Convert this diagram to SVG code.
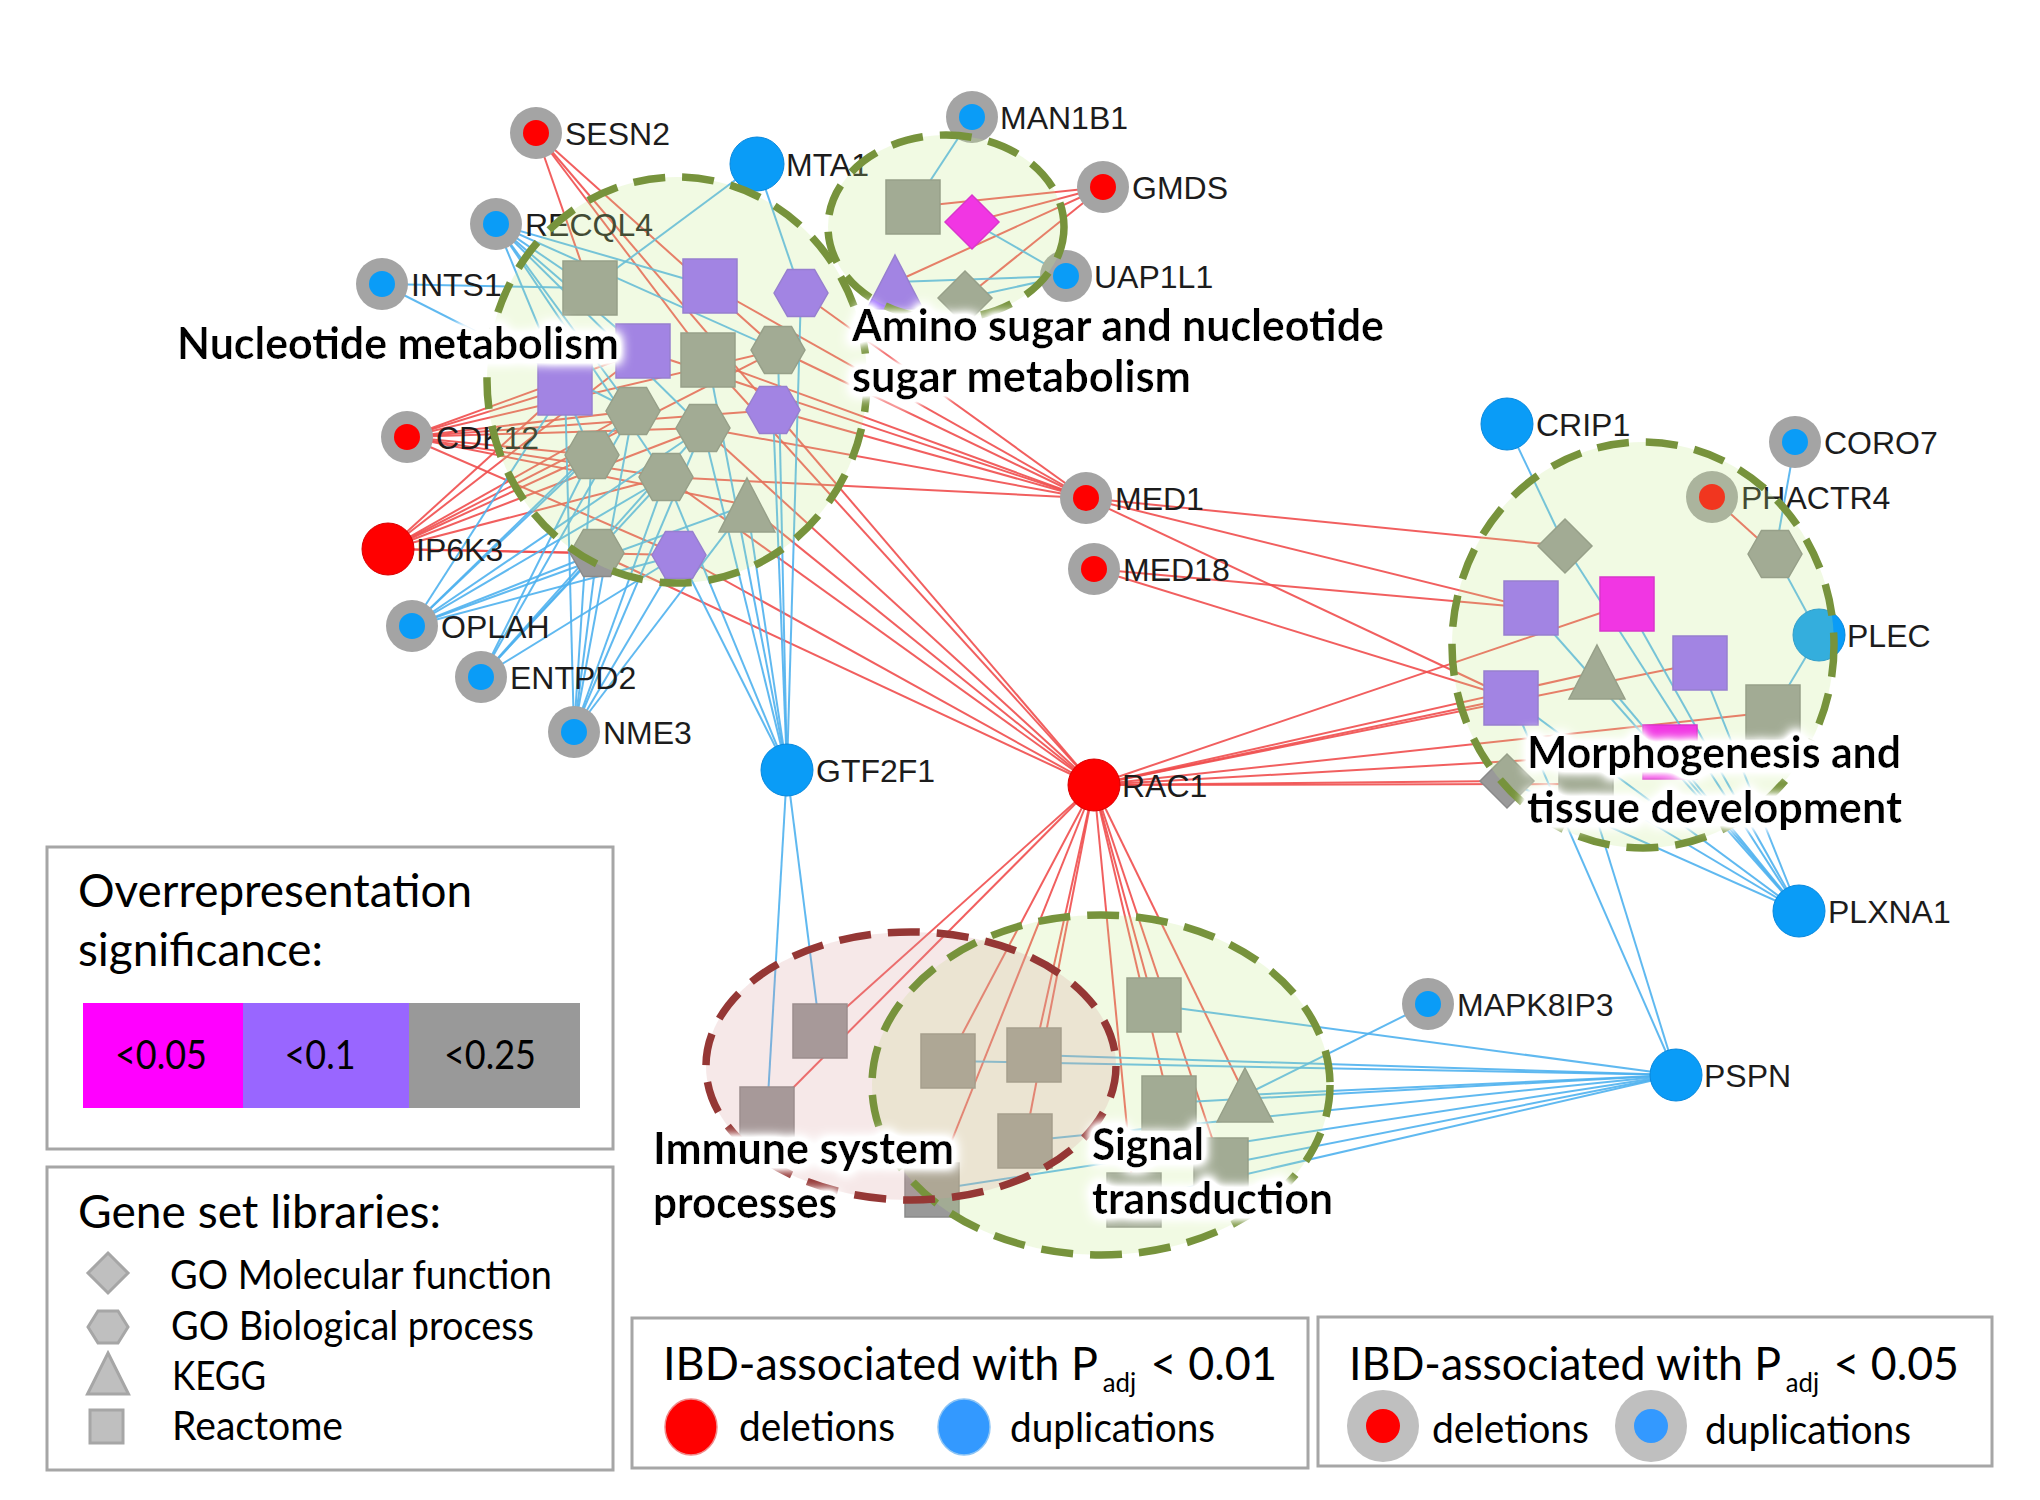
<svg xmlns="http://www.w3.org/2000/svg" width="2040" height="1500" viewBox="0 0 2040 1500">
<defs>
<style>
.ring{fill:#A4A4A4}
.rd{fill:#FF0000}
.bl{fill:#0A9CF7}
.rdS{fill:#FF0000;stroke:#D80000;stroke-width:1}
.blS{fill:#0A9CF7;stroke:#0888DD;stroke-width:1}
.gl{font-family:"Liberation Sans",Arial,sans-serif;font-size:32px;fill:#1c1c1c}
.er line{stroke:#F04E4E;stroke-width:2;stroke-opacity:.9}
.eb line{stroke:#4FB1EE;stroke-width:2;stroke-opacity:.9}
.g{fill:#999999;stroke:#8A8A8A;stroke-width:1.5}
.p{fill:#9966FF;stroke:#8A60E6;stroke-width:1.5}
.m{fill:#FF00FF;stroke:#E000E0;stroke-width:1.5}
.cfg{fill:#C3EA86;fill-opacity:.23}
.cfr{fill:#D99C9C;fill-opacity:.23}
.cog{fill:none;stroke:#77933C;stroke-width:7.5;stroke-dasharray:32 17}
.cor{fill:none;stroke:#953735;stroke-width:7.5;stroke-dasharray:32 17}
.title{font-family:Lato,"Open Sans",sans-serif;font-weight:700;font-size:43px;fill:#000}
.lg{font-family:Lato,"Open Sans",sans-serif;fill:#000}
.box{fill:#fff;stroke:#A6A6A6;stroke-width:3}
.ico{fill:#BFBFBF;stroke:#A6A6A6;stroke-width:3}
</style>
<rect id="sq" x="-27" y="-27" width="54" height="54"/>
<polygon id="hex" points="-27,0 -13.5,-23.5 13.5,-23.5 27,0 13.5,23.5 -13.5,23.5"/>
<polygon id="dia" points="0,-27 27,0 0,27 -27,0"/>
<polygon id="tri" points="0,-27 28,27 -28,27"/>
<filter id="halo" x="-10%" y="-50%" width="120%" height="200%">
<feMorphology in="SourceAlpha" operator="dilate" radius="4" result="d"/>
<feGaussianBlur in="d" stdDeviation="6" result="b"/>
<feComponentTransfer in="b" result="b2"><feFuncA type="linear" slope="2"/></feComponentTransfer>
<feFlood flood-color="#ffffff" result="w"/>
<feComposite in="w" in2="b2" operator="in" result="glow"/>
<feMerge><feMergeNode in="glow"/><feMergeNode in="SourceGraphic"/></feMerge>
</filter>
</defs>
<rect width="2040" height="1500" fill="#fff"/>

<g id="connectors">
<g class="er">
<line x1="536" y1="133" x2="590" y2="288"/><line x1="536" y1="133" x2="708" y2="360"/><line x1="536" y1="133" x2="778" y2="350"/><line x1="536" y1="133" x2="773" y2="410"/>
<line x1="407" y1="437" x2="565" y2="388"/><line x1="407" y1="437" x2="643" y2="351"/><line x1="407" y1="437" x2="633" y2="411"/><line x1="407" y1="437" x2="703" y2="428"/><line x1="407" y1="437" x2="778" y2="350"/><line x1="407" y1="437" x2="773" y2="410"/><line x1="407" y1="437" x2="666" y2="477"/><line x1="407" y1="437" x2="592" y2="455"/><line x1="407" y1="437" x2="747" y2="505"/><line x1="407" y1="437" x2="679" y2="555"/>
<line x1="388" y1="549" x2="565" y2="388"/><line x1="388" y1="549" x2="643" y2="351"/><line x1="388" y1="549" x2="633" y2="411"/><line x1="388" y1="549" x2="703" y2="428"/><line x1="388" y1="549" x2="592" y2="455"/><line x1="388" y1="549" x2="666" y2="477"/><line x1="388" y1="549" x2="778" y2="350"/><line x1="388" y1="549" x2="597" y2="553"/><line x1="388" y1="549" x2="679" y2="555"/>
<line x1="1086" y1="498" x2="710" y2="286"/><line x1="1086" y1="498" x2="801" y2="293"/><line x1="1086" y1="498" x2="708" y2="360"/><line x1="1086" y1="498" x2="778" y2="350"/><line x1="1086" y1="498" x2="773" y2="410"/><line x1="1086" y1="498" x2="703" y2="428"/><line x1="1086" y1="498" x2="666" y2="477"/><line x1="1086" y1="498" x2="643" y2="351"/>
<line x1="1086" y1="498" x2="1565" y2="546"/><line x1="1086" y1="498" x2="1531" y2="608"/><line x1="1086" y1="498" x2="1511" y2="698"/>
<line x1="1094" y1="569" x2="1531" y2="608"/><line x1="1094" y1="569" x2="1511" y2="698"/>
<line x1="1094" y1="785" x2="708" y2="360"/><line x1="1094" y1="785" x2="773" y2="410"/><line x1="1094" y1="785" x2="703" y2="428"/><line x1="1094" y1="785" x2="666" y2="477"/><line x1="1094" y1="785" x2="747" y2="505"/><line x1="1094" y1="785" x2="679" y2="555"/><line x1="1094" y1="785" x2="597" y2="553"/>
<line x1="1094" y1="785" x2="1627" y2="604"/><line x1="1094" y1="785" x2="1597" y2="672"/><line x1="1094" y1="785" x2="1700" y2="663"/><line x1="1094" y1="785" x2="1511" y2="698"/><line x1="1094" y1="785" x2="1773" y2="712"/><line x1="1094" y1="785" x2="1670" y2="752"/><line x1="1094" y1="785" x2="1507" y2="781"/><line x1="1094" y1="785" x2="1586" y2="784"/>
<line x1="1094" y1="785" x2="820" y2="1031"/><line x1="1094" y1="785" x2="767" y2="1114"/><line x1="1094" y1="785" x2="948" y2="1061"/><line x1="1094" y1="785" x2="1034" y2="1055"/><line x1="1094" y1="785" x2="1025" y2="1141"/><line x1="1094" y1="785" x2="1154" y2="1005"/><line x1="1094" y1="785" x2="1169" y2="1103"/><line x1="1094" y1="785" x2="1245" y2="1095"/><line x1="1094" y1="785" x2="1221" y2="1165"/><line x1="1094" y1="785" x2="1134" y2="1200"/><line x1="1094" y1="785" x2="932" y2="1190"/>
<line x1="1103" y1="187" x2="913" y2="207"/><line x1="1103" y1="187" x2="972" y2="222"/><line x1="1103" y1="187" x2="895" y2="282"/><line x1="1103" y1="187" x2="965" y2="298"/>
<line x1="1712" y1="497" x2="1775" y2="554"/>
</g>
<g class="eb">
<line x1="757" y1="164" x2="590" y2="288"/><line x1="757" y1="164" x2="801" y2="293"/>
<line x1="496" y1="224" x2="590" y2="288"/><line x1="496" y1="224" x2="710" y2="286"/><line x1="496" y1="224" x2="643" y2="351"/><line x1="496" y1="224" x2="778" y2="350"/><line x1="496" y1="224" x2="633" y2="411"/><line x1="496" y1="224" x2="703" y2="428"/><line x1="496" y1="224" x2="592" y2="455"/><line x1="496" y1="224" x2="666" y2="477"/>
<line x1="382" y1="284" x2="590" y2="288"/><line x1="382" y1="284" x2="633" y2="411"/>
<line x1="412" y1="626" x2="565" y2="388"/><line x1="412" y1="626" x2="633" y2="411"/><line x1="412" y1="626" x2="703" y2="428"/><line x1="412" y1="626" x2="592" y2="455"/><line x1="412" y1="626" x2="666" y2="477"/><line x1="412" y1="626" x2="747" y2="505"/><line x1="412" y1="626" x2="597" y2="553"/><line x1="412" y1="626" x2="679" y2="555"/>
<line x1="481" y1="677" x2="633" y2="411"/><line x1="481" y1="677" x2="703" y2="428"/><line x1="481" y1="677" x2="592" y2="455"/><line x1="481" y1="677" x2="666" y2="477"/><line x1="481" y1="677" x2="597" y2="553"/><line x1="481" y1="677" x2="679" y2="555"/>
<line x1="574" y1="732" x2="565" y2="388"/><line x1="574" y1="732" x2="633" y2="411"/><line x1="574" y1="732" x2="703" y2="428"/><line x1="574" y1="732" x2="592" y2="455"/><line x1="574" y1="732" x2="666" y2="477"/><line x1="574" y1="732" x2="747" y2="505"/><line x1="574" y1="732" x2="597" y2="553"/><line x1="574" y1="732" x2="679" y2="555"/>
<line x1="787" y1="770" x2="801" y2="293"/><line x1="787" y1="770" x2="708" y2="360"/><line x1="787" y1="770" x2="778" y2="350"/><line x1="787" y1="770" x2="773" y2="410"/><line x1="787" y1="770" x2="703" y2="428"/><line x1="787" y1="770" x2="666" y2="477"/><line x1="787" y1="770" x2="747" y2="505"/><line x1="787" y1="770" x2="679" y2="555"/><line x1="787" y1="770" x2="820" y2="1031"/><line x1="787" y1="770" x2="767" y2="1114"/>
<line x1="972" y1="117" x2="913" y2="207"/>
<line x1="1066" y1="276" x2="972" y2="222"/><line x1="1066" y1="276" x2="895" y2="282"/><line x1="1066" y1="276" x2="965" y2="298"/>
<line x1="1507" y1="424" x2="1565" y2="546"/>
<line x1="1795" y1="442" x2="1775" y2="554"/>
<line x1="1819" y1="635" x2="1775" y2="554"/><line x1="1819" y1="635" x2="1773" y2="712"/>
<line x1="1799" y1="911" x2="1565" y2="546"/><line x1="1799" y1="911" x2="1531" y2="608"/><line x1="1799" y1="911" x2="1627" y2="604"/><line x1="1799" y1="911" x2="1597" y2="672"/><line x1="1799" y1="911" x2="1700" y2="663"/><line x1="1799" y1="911" x2="1511" y2="698"/><line x1="1799" y1="911" x2="1670" y2="752"/><line x1="1799" y1="911" x2="1507" y2="781"/><line x1="1799" y1="911" x2="1586" y2="784"/>
<line x1="1676" y1="1075" x2="1511" y2="698"/><line x1="1676" y1="1075" x2="1586" y2="784"/><line x1="1676" y1="1075" x2="948" y2="1061"/><line x1="1676" y1="1075" x2="1034" y2="1055"/><line x1="1676" y1="1075" x2="1025" y2="1141"/><line x1="1676" y1="1075" x2="1154" y2="1005"/><line x1="1676" y1="1075" x2="1169" y2="1103"/><line x1="1676" y1="1075" x2="1245" y2="1095"/><line x1="1676" y1="1075" x2="1221" y2="1165"/><line x1="1676" y1="1075" x2="1134" y2="1200"/><line x1="1676" y1="1075" x2="932" y2="1190"/>
<line x1="1428" y1="1004" x2="1245" y2="1095"/>
</g>
</g>

<g id="terms">
<g id="N1"><use href="#sq" x="590" y="288" class="g"/></g>
<g id="N2"><use href="#sq" x="710" y="286" class="p"/></g>
<g id="N3"><use href="#hex" x="801" y="293" class="p"/></g>
<g id="N4"><use href="#sq" x="643" y="351" class="p"/></g>
<g id="N5"><use href="#sq" x="708" y="360" class="g"/></g>
<g id="N6"><use href="#hex" x="778" y="350" class="g"/></g>
<g id="N7"><use href="#sq" x="565" y="388" class="p"/></g>
<g id="N8"><use href="#hex" x="633" y="411" class="g"/></g>
<g id="N9"><use href="#hex" x="773" y="410" class="p"/></g>
<g id="N10"><use href="#hex" x="703" y="428" class="g"/></g>
<g id="N11"><use href="#hex" x="592" y="455" class="g"/></g>
<g id="N12"><use href="#hex" x="666" y="477" class="g"/></g>
<g id="N13"><use href="#tri" x="747" y="505" class="g"/></g>
<g id="N14"><use href="#hex" x="597" y="553" class="g"/></g>
<g id="N15"><use href="#hex" x="679" y="555" class="p"/></g>
<g id="A1"><use href="#sq" x="913" y="207" class="g"/></g>
<g id="A2"><use href="#dia" x="972" y="222" class="m"/></g>
<g id="A3"><use href="#tri" x="895" y="282" class="p"/></g>
<g id="A4"><use href="#dia" x="965" y="298" class="g"/></g>
<g id="M1"><use href="#dia" x="1565" y="546" class="g"/></g>
<g id="M2"><use href="#hex" x="1775" y="554" class="g"/></g>
<g id="M3"><use href="#sq" x="1531" y="608" class="p"/></g>
<g id="M4"><use href="#sq" x="1627" y="604" class="m"/></g>
<g id="M5"><use href="#tri" x="1597" y="672" class="g"/></g>
<g id="M6"><use href="#sq" x="1700" y="663" class="p"/></g>
<g id="M7"><use href="#sq" x="1511" y="698" class="p"/></g>
<g id="M8"><use href="#sq" x="1773" y="712" class="g"/></g>
<g id="M9"><use href="#sq" x="1670" y="752" class="m"/></g>
<g id="M10"><use href="#dia" x="1507" y="781" class="g"/></g>
<g id="M11"><use href="#sq" x="1586" y="784" class="g"/></g>
<g id="I1"><use href="#sq" x="820" y="1031" class="g"/></g>
<g id="I2"><use href="#sq" x="767" y="1114" class="g"/></g>
<g id="S1"><use href="#sq" x="948" y="1061" class="g"/></g>
<g id="S2"><use href="#sq" x="1034" y="1055" class="g"/></g>
<g id="S3"><use href="#sq" x="1025" y="1141" class="g"/></g>
<g id="S4"><use href="#sq" x="1154" y="1005" class="g"/></g>
<g id="S5"><use href="#sq" x="1169" y="1103" class="g"/></g>
<g id="S6"><use href="#tri" x="1245" y="1095" class="g"/></g>
<g id="S7"><use href="#sq" x="1221" y="1165" class="g"/></g>
<g id="S8"><use href="#sq" x="1134" y="1200" class="g"/></g>
<g id="S9"><use href="#sq" x="932" y="1190" class="g"/></g>
</g>

<g id="genes">
<g id="SESN2"><circle cx="536" cy="133" r="26" class="ring"/><circle cx="536" cy="133" r="13" class="rd"/><text x="565" y="145" class="gl">SESN2</text></g>
<g id="MTA1"><circle cx="757" cy="164" r="27" class="blS"/><text x="786" y="176" class="gl">MTA1</text></g>
<g id="RECQL4"><circle cx="496" cy="224" r="26" class="ring"/><circle cx="496" cy="224" r="13" class="bl"/><text x="525" y="236" class="gl">RECQL4</text></g>
<g id="INTS1"><circle cx="382" cy="284" r="26" class="ring"/><circle cx="382" cy="284" r="13" class="bl"/><text x="411" y="296" class="gl">INTS1</text></g>
<g id="CDK12"><circle cx="407" cy="437" r="26" class="ring"/><circle cx="407" cy="437" r="13" class="rd"/><text x="436" y="449" class="gl">CDK12</text></g>
<g id="IP6K3"><circle cx="388" cy="549" r="26" class="rdS"/><text x="416" y="561" class="gl">IP6K3</text></g>
<g id="OPLAH"><circle cx="412" cy="626" r="26" class="ring"/><circle cx="412" cy="626" r="13" class="bl"/><text x="441" y="638" class="gl">OPLAH</text></g>
<g id="ENTPD2"><circle cx="481" cy="677" r="26" class="ring"/><circle cx="481" cy="677" r="13" class="bl"/><text x="510" y="689" class="gl">ENTPD2</text></g>
<g id="NME3"><circle cx="574" cy="732" r="26" class="ring"/><circle cx="574" cy="732" r="13" class="bl"/><text x="603" y="744" class="gl">NME3</text></g>
<g id="GTF2F1"><circle cx="787" cy="770" r="26" class="blS"/><text x="816" y="782" class="gl">GTF2F1</text></g>
<g id="RAC1"><circle cx="1094" cy="785" r="26" class="rdS"/><text x="1122" y="797" class="gl">RAC1</text></g>
<g id="MED1"><circle cx="1086" cy="498" r="26" class="ring"/><circle cx="1086" cy="498" r="13" class="rd"/><text x="1115" y="510" class="gl">MED1</text></g>
<g id="MED18"><circle cx="1094" cy="569" r="26" class="ring"/><circle cx="1094" cy="569" r="13" class="rd"/><text x="1123" y="581" class="gl">MED18</text></g>
<g id="MAN1B1"><circle cx="972" cy="117" r="26" class="ring"/><circle cx="972" cy="117" r="13" class="bl"/><text x="1000" y="129" class="gl">MAN1B1</text></g>
<g id="GMDS"><circle cx="1103" cy="187" r="26" class="ring"/><circle cx="1103" cy="187" r="13" class="rd"/><text x="1132" y="199" class="gl">GMDS</text></g>
<g id="UAP1L1"><circle cx="1066" cy="276" r="26" class="ring"/><circle cx="1066" cy="276" r="13" class="bl"/><text x="1094" y="288" class="gl">UAP1L1</text></g>
<g id="CRIP1"><circle cx="1507" cy="424" r="26" class="blS"/><text x="1536" y="436" class="gl">CRIP1</text></g>
<g id="CORO7"><circle cx="1795" cy="442" r="26" class="ring"/><circle cx="1795" cy="442" r="13" class="bl"/><text x="1824" y="454" class="gl">CORO7</text></g>
<g id="PHACTR4"><circle cx="1712" cy="497" r="26" class="ring"/><circle cx="1712" cy="497" r="13" class="rd"/><text x="1741" y="509" class="gl">PHACTR4</text></g>
<g id="PLEC"><circle cx="1819" cy="635" r="26" class="blS"/><text x="1847" y="647" class="gl">PLEC</text></g>
<g id="PLXNA1"><circle cx="1799" cy="911" r="26" class="blS"/><text x="1828" y="923" class="gl">PLXNA1</text></g>
<g id="MAPK8IP3"><circle cx="1428" cy="1004" r="26" class="ring"/><circle cx="1428" cy="1004" r="13" class="bl"/><text x="1457" y="1016" class="gl">MAPK8IP3</text></g>
<g id="PSPN"><circle cx="1676" cy="1075" r="26" class="blS"/><text x="1704" y="1087" class="gl">PSPN</text></g>
</g>

<g id="clusters">
<ellipse cx="677" cy="380" rx="190" ry="203" class="cfg"/>
<ellipse cx="946" cy="227" rx="118" ry="92" class="cfg"/>
<ellipse cx="1643" cy="645" rx="191" ry="203" class="cfg"/>
<ellipse cx="1101" cy="1085" rx="229" ry="170" class="cfg"/>
<ellipse cx="911" cy="1066" rx="205" ry="134" class="cfr"/>
<ellipse cx="677" cy="380" rx="190" ry="203" class="cog"/>
<ellipse cx="946" cy="227" rx="118" ry="92" class="cog"/>
<ellipse cx="1643" cy="645" rx="191" ry="203" class="cog"/>
<ellipse cx="1101" cy="1085" rx="229" ry="170" class="cog"/>
<ellipse cx="911" cy="1066" rx="205" ry="134" class="cor"/>
</g>

<g id="cluster-titles" filter="url(#halo)">
<text x="177" y="359" class="title" textLength="442" lengthAdjust="spacingAndGlyphs">Nucleotide metabolism</text>
<text x="852" y="341" class="title" textLength="532" lengthAdjust="spacingAndGlyphs">Amino sugar and nucleotide</text>
<text x="852" y="392" class="title" textLength="339" lengthAdjust="spacingAndGlyphs">sugar metabolism</text>
<text x="1527" y="768" class="title" textLength="374" lengthAdjust="spacingAndGlyphs">Morphogenesis and</text>
<text x="1527" y="823" class="title" textLength="375" lengthAdjust="spacingAndGlyphs">tissue development</text>
<text x="653" y="1164" class="title" textLength="301" lengthAdjust="spacingAndGlyphs">Immune system</text>
<text x="653" y="1218" class="title" textLength="184" lengthAdjust="spacingAndGlyphs">processes</text>
<text x="1092" y="1160" class="title" textLength="112" lengthAdjust="spacingAndGlyphs">Signal</text>
<text x="1092" y="1214" class="title" textLength="241" lengthAdjust="spacingAndGlyphs">transduction</text>
</g>

<g id="legend-significance">
<rect x="47" y="847" width="566" height="302" class="box"/>
<text x="78" y="907" class="lg" font-size="46" textLength="394" lengthAdjust="spacingAndGlyphs">Overrepresentation</text>
<text x="78" y="966" class="lg" font-size="46" textLength="245" lengthAdjust="spacingAndGlyphs">significance:</text>
<rect x="83" y="1003" width="160" height="105" fill="#FF00FF"/>
<rect x="243" y="1003" width="166" height="105" fill="#9966FF"/>
<rect x="409" y="1003" width="171" height="105" fill="#999999"/>
<text x="161" y="1069" class="lg" font-size="40" text-anchor="middle" textLength="92" lengthAdjust="spacingAndGlyphs">&lt;0.05</text>
<text x="320" y="1069" class="lg" font-size="40" text-anchor="middle" textLength="71" lengthAdjust="spacingAndGlyphs">&lt;0.1</text>
<text x="490" y="1069" class="lg" font-size="40" text-anchor="middle" textLength="92" lengthAdjust="spacingAndGlyphs">&lt;0.25</text>
</g>

<g id="legend-libraries">
<rect x="47" y="1167" width="566" height="303" class="box"/>
<text x="78" y="1228" class="lg" font-size="46" textLength="363" lengthAdjust="spacingAndGlyphs">Gene set libraries:</text>
<polygon points="108,1253 128,1273 108,1293 88,1273" class="ico"/>
<polygon points="88,1327 98,1311 118,1311 128,1327 118,1343 98,1343" class="ico"/>
<polygon points="108,1353 128.5,1394 87.5,1394" class="ico"/>
<rect x="90" y="1410" width="33" height="33" class="ico"/>
<text x="170" y="1289" class="lg" font-size="40" textLength="382" lengthAdjust="spacingAndGlyphs">GO Molecular function</text>
<text x="171" y="1340" class="lg" font-size="40" textLength="363" lengthAdjust="spacingAndGlyphs">GO Biological process</text>
<text x="172" y="1390" class="lg" font-size="40" textLength="94" lengthAdjust="spacingAndGlyphs">KEGG</text>
<text x="172" y="1440" class="lg" font-size="40" textLength="171" lengthAdjust="spacingAndGlyphs">Reactome</text>
</g>

<g id="legend-p001">
<rect x="632" y="1318" width="676" height="150" class="box"/>
<text x="663" y="1380" class="lg" font-size="47" textLength="614" lengthAdjust="spacingAndGlyphs">IBD-associated with P<tspan font-size="27" dx="5" dy="12">adj</tspan><tspan dx="3" dy="-12"> &lt; 0.01</tspan></text>
<ellipse cx="691" cy="1427" rx="26" ry="28" fill="#FF0000" stroke="#F08A8A" stroke-width="1.5"/>
<text x="739" y="1441" class="lg" font-size="40" textLength="156" lengthAdjust="spacingAndGlyphs">deletions</text>
<ellipse cx="964" cy="1427" rx="26" ry="28" fill="#3399FF" stroke="#8CC4F5" stroke-width="1.5"/>
<text x="1010" y="1442" class="lg" font-size="40" textLength="205" lengthAdjust="spacingAndGlyphs">duplications</text>
</g>

<g id="legend-p005">
<rect x="1318" y="1317" width="674" height="149" class="box"/>
<text x="1349" y="1380" class="lg" font-size="47" textLength="610" lengthAdjust="spacingAndGlyphs">IBD-associated with P<tspan font-size="27" dx="5" dy="12">adj</tspan><tspan dx="3" dy="-12"> &lt; 0.05</tspan></text>
<circle cx="1383" cy="1426" r="36" fill="#BFBFBF"/>
<circle cx="1383" cy="1426" r="17" fill="#FF0000"/>
<text x="1432" y="1443" class="lg" font-size="40" textLength="157" lengthAdjust="spacingAndGlyphs">deletions</text>
<circle cx="1651" cy="1426" r="36" fill="#BFBFBF"/>
<circle cx="1651" cy="1426" r="17" fill="#3399FF"/>
<text x="1705" y="1444" class="lg" font-size="40" textLength="206" lengthAdjust="spacingAndGlyphs">duplications</text>
</g>
</svg>
